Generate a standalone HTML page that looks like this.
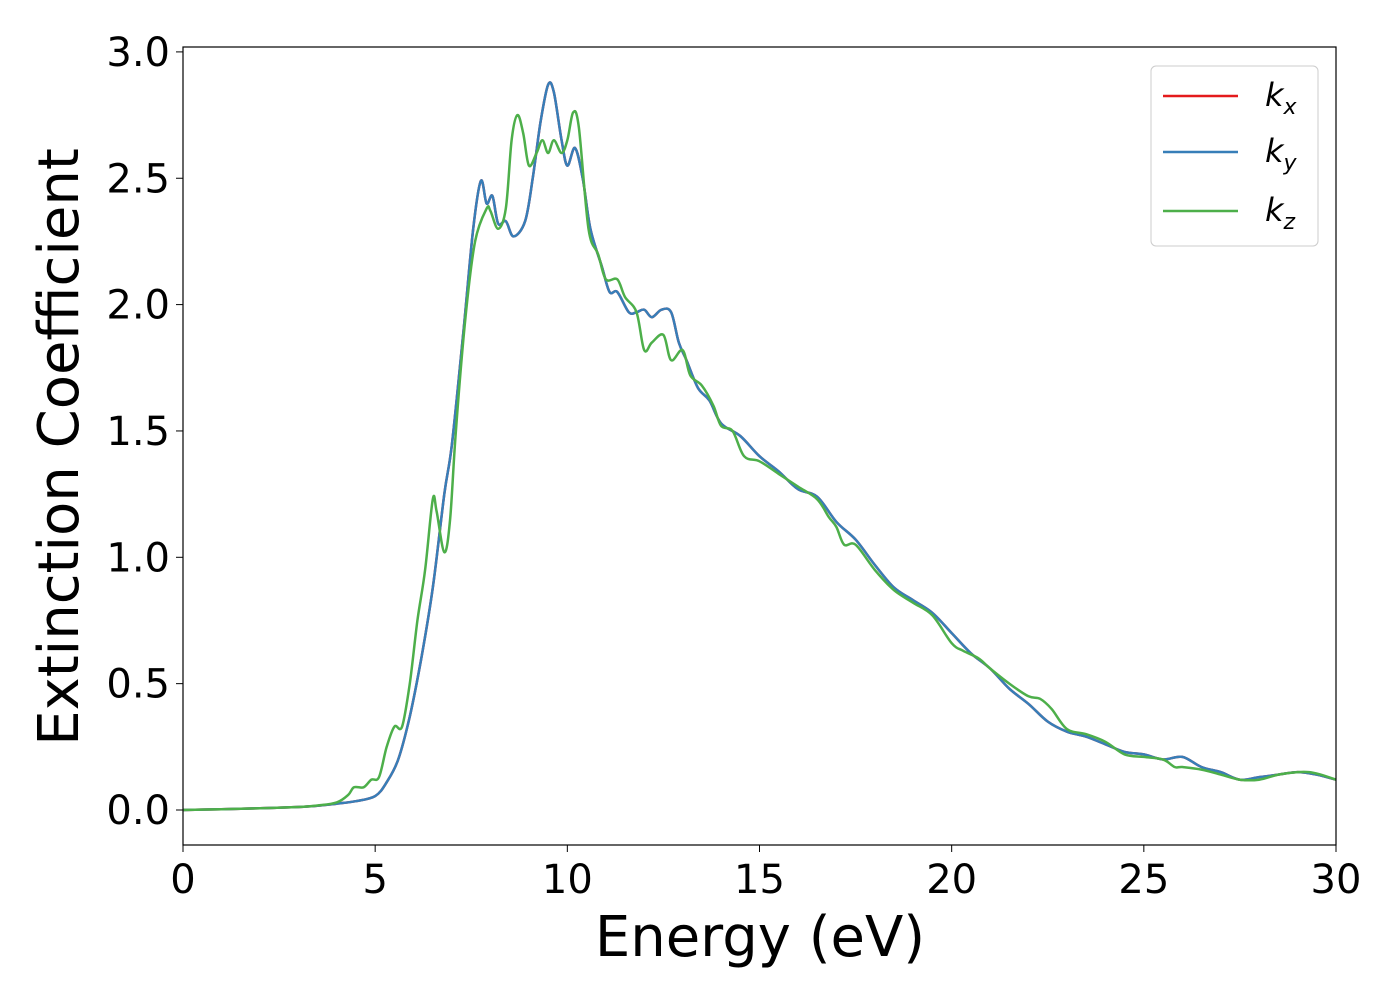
<!DOCTYPE html>
<html><head><meta charset="utf-8"><style>
body{margin:0;background:#fff}
svg text{font-family:"DejaVu Sans","Liberation Sans",sans-serif;fill:#000}
</style></head><body>
<svg width="1400" height="1000" viewBox="0 0 1400 1000">
<g id="plot"></g>
<rect x="183" y="47" width="1153" height="798" fill="none" stroke="#000" stroke-width="1.2"/>
<g id="ticks"></g>
<text x="760" y="956" font-size="56" text-anchor="middle">Energy (eV)</text>
<text transform="translate(78,447) rotate(-90)" font-size="56" text-anchor="middle">Extinction Coefficient</text>
<g>
<rect x="1151" y="66" width="167" height="180" rx="5" fill="#fff" fill-opacity="0.8" stroke="#ccc"/>
<line x1="1163" y1="96" x2="1238" y2="96" stroke="#e41a1c" stroke-width="2.5"/>
<text x="1265" y="106" font-size="32" font-style="italic">k<tspan font-size="22" dy="8">x</tspan></text>
<line x1="1163" y1="152" x2="1238" y2="152" stroke="#377eb8" stroke-width="2.5"/>
<text x="1265" y="162" font-size="32" font-style="italic">k<tspan font-size="22" dy="8">y</tspan></text>
<line x1="1163" y1="211" x2="1238" y2="211" stroke="#4daf4a" stroke-width="2.5"/>
<text x="1265" y="221" font-size="32" font-style="italic">k<tspan font-size="22" dy="8">z</tspan></text>
</g>
</svg>
<script>
const xyE=[0,1,2,3,3.5,4,4.5,5,5.3,5.6,5.9,6.2,6.5,6.8,7.0,7.3,7.55,7.75,7.9,8.05,8.2,8.4,8.6,8.9,9.1,9.3,9.5,9.65,9.85,10.0,10.2,10.4,10.6,10.9,11.1,11.3,11.6,11.8,12.0,12.2,12.45,12.7,12.9,13.1,13.4,13.7,14.0,14.5,15,15.5,16,16.5,17,17.5,18,18.5,19,19.5,20,20.5,21,21.5,22,22.5,23,23.5,24,24.5,25,25.5,26,26.5,27,27.5,28,28.5,29,29.5,30];
const kxy=[0,0.003,0.007,0.012,0.017,0.025,0.035,0.055,0.11,0.2,0.37,0.6,0.88,1.25,1.45,1.9,2.3,2.49,2.4,2.43,2.32,2.33,2.27,2.33,2.5,2.72,2.87,2.84,2.65,2.55,2.62,2.5,2.3,2.15,2.05,2.05,1.97,1.97,1.98,1.95,1.98,1.97,1.85,1.78,1.67,1.62,1.53,1.48,1.4,1.34,1.27,1.24,1.14,1.07,0.97,0.88,0.83,0.78,0.7,0.62,0.56,0.48,0.42,0.35,0.31,0.29,0.26,0.23,0.22,0.2,0.21,0.17,0.15,0.12,0.13,0.14,0.15,0.14,0.12];
const zE=[0,1,2,3,3.5,4,4.3,4.45,4.7,4.9,5.1,5.3,5.5,5.7,5.9,6.1,6.3,6.5,6.6,6.8,6.95,7.1,7.35,7.6,7.9,8.0,8.2,8.4,8.55,8.7,8.85,9.0,9.2,9.35,9.5,9.65,9.85,10.0,10.15,10.3,10.55,10.8,11.0,11.3,11.5,11.8,12.0,12.2,12.5,12.7,13.0,13.2,13.5,13.8,14.0,14.3,14.6,15,15.5,16,16.5,16.8,17,17.2,17.5,18,18.5,19,19.5,20,20.3,20.7,21,21.5,22,22.3,22.6,23,23.5,24,24.5,25,25.5,25.8,26,26.5,27,27.5,28,28.5,29,29.3,29.6,30];
const kz=[0,0.003,0.007,0.012,0.018,0.03,0.06,0.09,0.09,0.12,0.13,0.25,0.33,0.33,0.5,0.75,0.95,1.23,1.18,1.02,1.15,1.5,1.95,2.25,2.38,2.37,2.3,2.38,2.65,2.75,2.68,2.55,2.6,2.65,2.6,2.65,2.6,2.65,2.76,2.7,2.3,2.2,2.1,2.1,2.03,1.97,1.82,1.85,1.88,1.78,1.82,1.72,1.68,1.6,1.52,1.5,1.4,1.38,1.33,1.28,1.23,1.16,1.12,1.05,1.05,0.95,0.87,0.82,0.77,0.66,0.63,0.6,0.56,0.5,0.45,0.44,0.4,0.32,0.3,0.27,0.22,0.21,0.2,0.17,0.17,0.16,0.14,0.12,0.12,0.14,0.15,0.15,0.14,0.12];
const xTicks=[0,5,10,15,20,25,30];
const yTicks=[0.0,0.5,1.0,1.5,2.0,2.5,3.0];
const X=e=>183+e*(1153/30);
const Y=k=>810-k*252.7;
const NS='http://www.w3.org/2000/svg';
function path(xs,ys){
  const p=xs.map((e,i)=>[X(e),Y(ys[i])]);
  let d='M'+p[0][0].toFixed(1)+','+p[0][1].toFixed(1);
  for(let i=0;i<p.length-1;i++){
    const p0=p[Math.max(0,i-1)],p1=p[i],p2=p[i+1],p3=p[Math.min(p.length-1,i+2)];
    const c1=[p1[0]+(p2[0]-p0[0])/6,p1[1]+(p2[1]-p0[1])/6];
    const c2=[p2[0]-(p3[0]-p1[0])/6,p2[1]-(p3[1]-p1[1])/6];
    d+=' C'+c1[0].toFixed(1)+','+c1[1].toFixed(1)+' '+c2[0].toFixed(1)+','+c2[1].toFixed(1)+' '+p2[0].toFixed(1)+','+p2[1].toFixed(1);
  }
  return d;
}
const plot=document.getElementById('plot');
[[xyE,kxy,'#e41a1c','series-kx'],[xyE,kxy,'#377eb8','series-ky'],[zE,kz,'#4daf4a','series-kz']].forEach(s=>{
  const el=document.createElementNS(NS,'path');
  el.setAttribute('d',path(s[0],s[1]));
  el.setAttribute('fill','none');el.setAttribute('stroke',s[2]);el.setAttribute('stroke-width','2.5');
  
  
  plot.appendChild(el);
});
const tg=document.getElementById('ticks');
xTicks.forEach(t=>{
  const l=document.createElementNS(NS,'line');
  l.setAttribute('x1',X(t));l.setAttribute('x2',X(t));l.setAttribute('y1',845);l.setAttribute('y2',852);l.setAttribute('stroke','#000');
  
  
  tg.appendChild(l);
  const tx=document.createElementNS(NS,'text');
  tx.setAttribute('x',X(t));tx.setAttribute('y',893);tx.setAttribute('font-size','40');tx.setAttribute('text-anchor','middle');
  tx.textContent=t;
  
  
  tg.appendChild(tx);
});
yTicks.forEach(t=>{
  const l=document.createElementNS(NS,'line');
  l.setAttribute('x1',176);l.setAttribute('x2',183);l.setAttribute('y1',Y(t));l.setAttribute('y2',Y(t));l.setAttribute('stroke','#000');
  
  
  tg.appendChild(l);
  const tx=document.createElementNS(NS,'text');
  tx.setAttribute('x',170);tx.setAttribute('y',Y(t)+14);tx.setAttribute('font-size','40');tx.setAttribute('text-anchor','end');
  tx.textContent=t.toFixed(1);
  
  
  tg.appendChild(tx);
});
</script>
</body></html>
